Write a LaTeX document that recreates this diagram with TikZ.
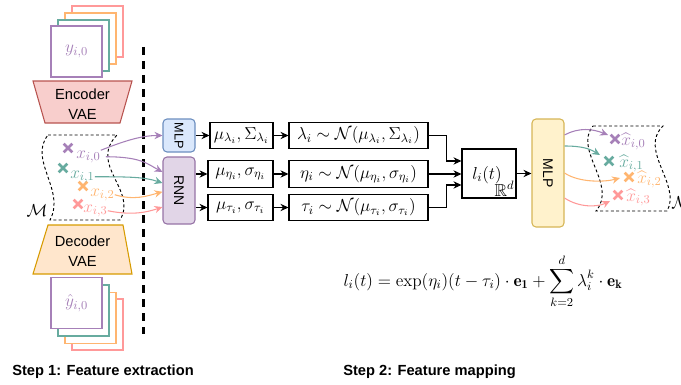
\RequirePackage{fix-cm}
\documentclass[tikz,border=0pt]{standalone}
\usepackage{amsmath}
\usepackage{amssymb}
\usepackage{graphicx}
\usepackage{fontspec}
\setsansfont{Liberation Sans}
\usepackage{tikz}
\usetikzlibrary{
  arrows.meta,
  positioning,
  shapes.misc,
  calc
}
\definecolor{lilac}{HTML}{A680B8}
\definecolor{sage}{HTML}{67AB9F}
\definecolor{apricot}{HTML}{FFB570}
\definecolor{rose}{HTML}{FF9999}
\definecolor{encfill}{HTML}{F8CECC}
\definecolor{encline}{HTML}{B85450}
\definecolor{decfill}{HTML}{FFE6CC}
\definecolor{decline}{HTML}{D79B00}
\definecolor{mlpfill}{HTML}{DAE8FC}
\definecolor{mlpline}{HTML}{6C8EBF}
\definecolor{rnnfill}{HTML}{E1D5E7}
\definecolor{rnnline}{HTML}{9673A6}
\definecolor{mapfill}{HTML}{FFF2CC}
\definecolor{mapline}{HTML}{D6B656}

\begin{document}
\begin{tikzpicture}[
    x=0.75pt, y=-0.75pt,
    font=\fontsize{13}{16}\selectfont,
    sq/.style={draw, fill=white, line width=0.8pt, minimum width=38.25pt, minimum height=38.25pt, inner sep=0pt},
    bx/.style={draw, line width=0.8pt, minimum height=20pt, inner sep=1pt},
    blk/.style={draw, line width=0.8pt, rounded corners=3pt, minimum width=24pt, inner sep=0pt, font=\sffamily\fontsize{10.5}{12}\selectfont},
    vae/.style={align=center, font=\sffamily\fontsize{11}{15}\selectfont},
    crs/.style={cross out, draw, line width=2pt, minimum size=4.5pt, inner sep=0pt},
    lbl/.style={anchor=base west, inner sep=0pt},
    arr/.style={-{Stealth[length=6pt, width=5.5pt]}, line width=0.8pt},
    mfd/.style={line width=0.7pt, dash pattern=on 2.2pt off 1.8pt},
    stp/.style={anchor=base west, inner sep=0pt, font=\sffamily\bfseries\fontsize{11}{13}\selectfont}
  ]
  \useasboundingbox (0,0) rectangle (681,385);

  % Step 1: feature extraction
  \node[sq, draw=rose] (yr) at (97.5,31.5) {};
  \node[sq, draw=apricot] (yo) at (90.5,38.5) {};
  \node[sq, draw=sage] (yg) at (83.5,45.5) {};
  \node[sq, draw=lilac, text=lilac] (y0) at (76.5,51.5) {$y_{i,0}$};

  \draw[fill=encfill, draw=encline, line width=0.8pt] (33,81) -- (132,81) -- (120,123) -- (45,123) -- cycle;
  \node[vae] (enc) at (82.5,104) {Encoder\\VAE};

  \draw[mfd] (48,135) -- (117,135) .. controls (88,165) and (138,190) .. (120,220) -- (50,220) .. controls (66,190) and (28,160) .. (48,135);
  \node (mL) at (37,211) {$\mathcal{M}$};

  \node[crs, draw=lilac] (c0) at (68,148) {};
  \node[crs, draw=sage] (c1) at (63,168) {};
  \node[crs, draw=apricot] (c2) at (83,186) {};
  \node[crs, draw=rose] (c3) at (78,204) {};
  \node[lbl, text=lilac] (x0) at (76,158) {$x_{i,0}$};
  \node[lbl, text=sage] (x1) at (70,178) {$x_{i,1}$};
  \node[lbl, text=apricot] (x2) at (90,196) {$x_{i,2}$};
  \node[lbl, text=rose] (x3) at (83,212) {$x_{i,3}$};

  \draw[fill=decfill, draw=decline, line width=0.8pt] (48,225) -- (123,225) -- (132,274) -- (33,274) -- cycle;
  \node[vae] (dec) at (82.5,251) {Decoder\\VAE};

  \node[sq, draw=rose] (hr) at (97.5,324.5) {};
  \node[sq, draw=apricot] (ho) at (90.5,318) {};
  \node[sq, draw=sage] (hg) at (83.5,310.5) {};
  \node[sq, draw=lilac, text=lilac] (h0) at (76.5,303) {$\hat{y}_{i,0}$};

  \coordinate (sepT) at (143,47);
  \coordinate (sepB) at (143,334);
  \draw[line width=2.25pt, dash pattern=on 6pt off 4.5pt] (sepT) -- (sepB);

  % Step 2: feature mapping
  \node[blk, fill=mlpfill, draw=mlpline, minimum height=24.75pt, font=\sffamily\fontsize{9.5}{11}\selectfont] (mlp) at (179,135.5) {\rotatebox{-90}{MLP}};
  \node[blk, fill=rnnfill, draw=rnnline, minimum height=50.25pt] (rnn) at (179,190.5) {\rotatebox{-90}{RNN}};

  \node[bx, minimum width=47.25pt] (mul) at (241.5,135.5) {$\mu_{\lambda_i},\Sigma_{\lambda_i}$};
  \node[bx, minimum width=48.75pt] (mue) at (240.5,174) {$\mu_{\eta_i},\sigma_{\eta_i}$};
  \node[bx, minimum width=48.75pt] (mut) at (240.5,207.5) {$\mu_{\tau_i},\sigma_{\tau_i}$};
  \node[bx, minimum width=104.25pt] (nl) at (358.5,135.5) {$\lambda_i\sim\mathcal{N}(\mu_{\lambda_i},\Sigma_{\lambda_i})$};
  \node[bx, minimum width=104.25pt] (ne) at (358.5,174) {$\eta_i\sim\mathcal{N}(\mu_{\eta_i},\sigma_{\eta_i})$};
  \node[bx, minimum width=104.25pt] (nt) at (358.5,207.5) {$\tau_i\sim\mathcal{N}(\mu_{\tau_i},\sigma_{\tau_i})$};

  \node[bx, minimum width=40.5pt, minimum height=36.75pt] (lt) at (489,173.5) {};
  \node (ltt) at (487,175) {$l_i(t)$};
  \node[anchor=south east, inner sep=1.5pt] (rd) at (lt.south east) {$\mathbb{R}^d$};

  \node[blk, fill=mapfill, draw=mapline, minimum height=81pt] (mlq) at (548,173) {\rotatebox{-90}{MLP}};

  \draw[arr, lilac] (x0.north east) .. controls +(25,-10) and +(-20,0) .. (mlp.west);
  \draw[arr, lilac] ($(x0.east)+(5,0)$) .. controls +(35,0) and +(-15,-8) .. ([yshift=13.9pt]rnn.west);
  \draw[arr, sage] (x1.east) .. controls +(35,0) and +(-18,-6) .. ([yshift=5.6pt]rnn.west);
  \draw[arr, apricot] (x2.east) .. controls +(20,6) and +(-15,4) .. ([yshift=-1pt]rnn.west);
  \draw[arr, rose] (x3.east) .. controls +(25,5) and +(-15,5) .. ([yshift=-12.4pt]rnn.west);

  \draw[arr] (mlp.east) -- (mul.west);
  \draw[arr] (rnn.east |- mue.west) -- (mue.west);
  \draw[arr] (rnn.east |- mut.west) -- (mut.west);
  \draw[arr] (mul.east) -- (nl.west);
  \draw[arr] (mue.east) -- (ne.west);
  \draw[arr] (mut.east) -- (nt.west);

  \draw[arr] (nl.east) -- ++(18,0) |- ([yshift=9.4pt]lt.west);
  \draw[arr] (ne.east) -- (ne.east -| lt.west);
  \draw[arr] (nt.east) -- ++(18,0) |- ([yshift=-8.6pt]lt.west);
  \draw[arr] (lt.east) -- (lt.east -| mlq.west);

  \draw[mfd] (593,126) -- (663,126) .. controls (638,150) and (682,185) .. (667,211) -- (596,211) .. controls (618,185) and (573,150) .. (593,126);
  \node[anchor=west, inner sep=0pt] (mR) at (671,203) {$\mathcal{M}$};

  \node[crs, draw=lilac] (q0) at (615,139) {};
  \node[crs, draw=sage] (q1) at (609,161) {};
  \node[crs, draw=apricot] (q2) at (629,177) {};
  \node[crs, draw=rose] (q3) at (618,195) {};
  \node[lbl, text=lilac] (z0) at (621,145) {$\widehat{x}_{i,0}$};
  \node[lbl, text=sage] (z1) at (619,167) {$\widehat{x}_{i,1}$};
  \node[lbl, text=apricot] (z2) at (637,183) {$\widehat{x}_{i,2}$};
  \node[lbl, text=rose] (z3) at (626,201) {$\widehat{x}_{i,3}$};

  \draw[arr, lilac] ([yshift=28.5pt]mlq.east) .. controls +(15,-8) and +(-15,-6) .. ([shift={(-7,-4)}]q0.center);
  \draw[arr, sage] ([yshift=20.25pt]mlq.east) .. controls +(18,0) and +(-10,-6) .. ([shift={(-9,-6)}]q1.center);
  \draw[arr, apricot] (mlq.east) .. controls +(15,10) and +(-15,4) .. ([shift={(-9,1)}]q2.center);
  \draw[arr, rose] ([yshift=-18.75pt]mlq.east) .. controls +(15,10) and +(-12,6) .. ([shift={(-8,6)}]q3.center);

  \node[anchor=base] (eq) at (483,286) {$\displaystyle l_i(t) = \exp(\eta_i)(t-\tau_i)\cdot\mathbf{e_1} + \sum_{k=2}^{d}\lambda_i^k\cdot\mathbf{e_k}$};

  \node[stp] (s1) at (12,375) {Step 1: Feature extraction};
  \node[stp] (s2) at (343,375) {Step 2: Feature mapping};
\end{tikzpicture}
\end{document}
